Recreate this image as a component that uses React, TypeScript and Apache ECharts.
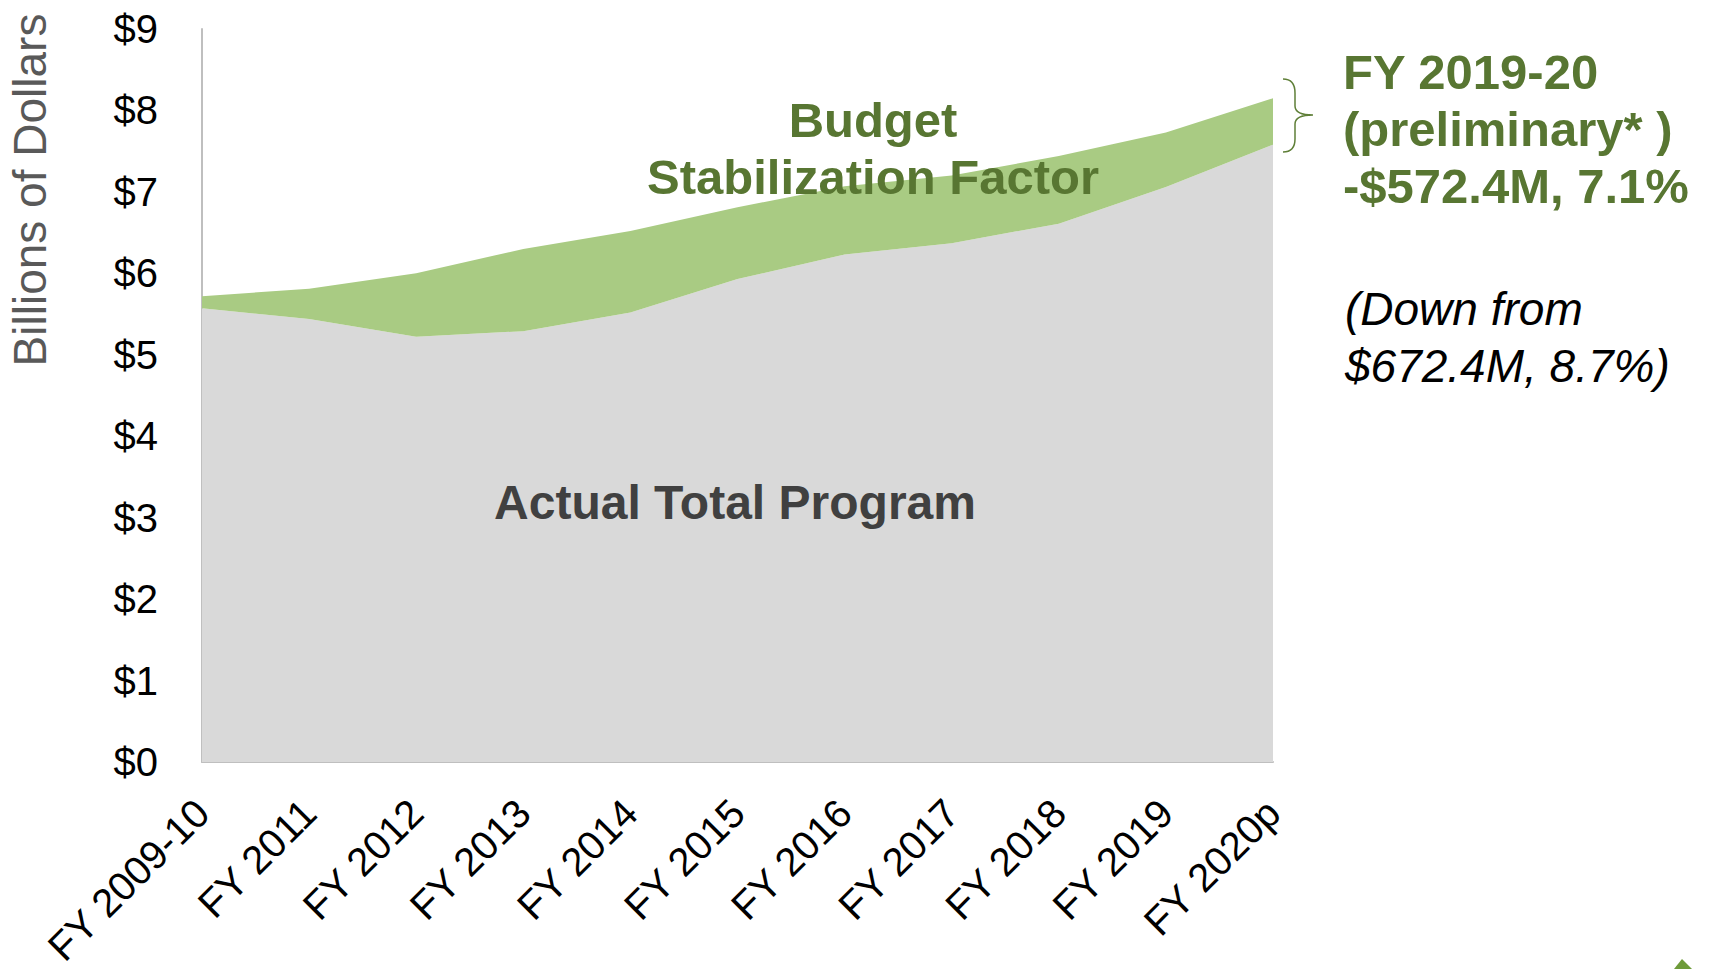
import React, { useEffect, useRef } from "react";
import * as echarts from "echarts";

const categories = [
  "FY 2009-10", "FY 2011", "FY 2012", "FY 2013", "FY 2014", "FY 2015",
  "FY 2016", "FY 2017", "FY 2018", "FY 2019", "FY 2020p",
];
const actualTotalProgram = [5.57, 5.44, 5.22, 5.29, 5.52, 5.93, 6.23, 6.37, 6.61, 7.06, 7.58];
const budgetStabilizationFactor = [0.15, 0.37, 0.78, 1.01, 1.0, 0.88, 0.84, 0.83, 0.83, 0.67, 0.57];
const yTicks = [0, 1, 2, 3, 4, 5, 6, 7, 8, 9];

const FONT = "'Liberation Sans', Arial, sans-serif";
const DARK_GREEN = "#587632";
const LIGHT_GREEN = "#A9CB83";
const GRAY = "#D9D9D9";

echarts.graphic.registerShape(
  "brace",
  echarts.graphic.extendPath(
    "M0,0 C8,0 12,4 12,14 L12,27 C12,33 18,36 30,36 C18,36 12,39 12,45 L12,60 C12,69 8,73 0,73",
    {}
  )
);

export default function App() {
  const ref = useRef<HTMLDivElement>(null);
  useEffect(() => {
    if (!ref.current) return;
    const chart = echarts.init(ref.current, undefined, { renderer: "svg" });
    chart.setOption({
      animation: false,
      backgroundColor: "#ffffff",
      grid: {
        left: 202,
        right: 438,
        top: 29,
        bottom: 207,
        containLabel: false,
        outerBoundsMode: "none",
      },
      xAxis: {
        type: "category",
        data: categories,
        boundaryGap: false,
        axisLine: { show: true, lineStyle: { color: "#BFBFBF", width: 2 } },
        axisTick: { show: false },
        axisLabel: {
          rotate: 45,
          interval: 0,
          margin: 44,
          fontSize: 40,
          color: "#000000",
          fontFamily: FONT,
        },
        splitLine: { show: false },
      },
      yAxis: {
        type: "value",
        min: yTicks[0],
        max: yTicks[yTicks.length - 1],
        interval: 1,
        axisLine: { show: true, lineStyle: { color: "#BFBFBF", width: 2 } },
        axisTick: { show: false },
        splitLine: { show: false },
        axisLabel: {
          formatter: (v: number) => "$" + v,
          fontSize: 40,
          margin: 44,
          color: "#000000",
          fontFamily: FONT,
        },
      },
      series: [
        {
          name: "Actual Total Program",
          type: "line",
          stack: "total",
          data: actualTotalProgram,
          symbol: "none",
          lineStyle: { width: 0 },
          areaStyle: { color: GRAY, opacity: 1 },
          z: 1,
        },
        {
          name: "Budget Stabilization Factor",
          type: "line",
          stack: "total",
          data: budgetStabilizationFactor,
          symbol: "none",
          lineStyle: { width: 0 },
          areaStyle: { color: LIGHT_GREEN, opacity: 1 },
          z: 1,
        },
      ],
      graphic: [
        {
          type: "text",
          x: 30,
          y: 190,
          rotation: Math.PI / 2,
          style: {
            text: "Billions of Dollars",
            fill: "#595959",
            font: `46px ${FONT}`,
            align: "center",
            verticalAlign: "middle",
          },
        },
        {
          type: "text",
          x: 873,
          y: 120,
          z: 10,
          style: {
            text: "Budget",
            fill: DARK_GREEN,
            font: `bold 49px ${FONT}`,
            align: "center",
            verticalAlign: "middle",
          },
        },
        {
          type: "text",
          x: 873,
          y: 177,
          z: 10,
          style: {
            text: "Stabilization Factor",
            fill: DARK_GREEN,
            font: `bold 49px ${FONT}`,
            align: "center",
            verticalAlign: "middle",
          },
        },
        {
          type: "text",
          x: 735,
          y: 502,
          z: 10,
          style: {
            text: "Actual Total Program",
            fill: "#404040",
            font: `bold 48px ${FONT}`,
            align: "center",
            verticalAlign: "middle",
          },
        },
        {
          type: "brace",
          x: 1283,
          y: 79,
          style: { fill: "none", stroke: "#5F7F38", lineWidth: 1.5 },
        },
        {
          type: "text",
          x: 1343,
          y: 72,
          style: {
            text: "FY 2019-20",
            fill: DARK_GREEN,
            font: `bold 49px ${FONT}`,
            align: "left",
            verticalAlign: "middle",
          },
        },
        {
          type: "text",
          x: 1343,
          y: 129,
          style: {
            text: "(preliminary* )",
            fill: DARK_GREEN,
            font: `bold 49px ${FONT}`,
            align: "left",
            verticalAlign: "middle",
          },
        },
        {
          type: "text",
          x: 1343,
          y: 186,
          style: {
            text: "-$572.4M, 7.1%",
            fill: DARK_GREEN,
            font: `bold 49px ${FONT}`,
            align: "left",
            verticalAlign: "middle",
          },
        },
        {
          type: "text",
          x: 1345,
          y: 309,
          style: {
            text: "(Down from",
            fill: "#000000",
            font: `italic 46px ${FONT}`,
            align: "left",
            verticalAlign: "middle",
          },
        },
        {
          type: "text",
          x: 1345,
          y: 366,
          style: {
            text: "$672.4M, 8.7%)",
            fill: "#000000",
            font: `italic 46px ${FONT}`,
            align: "left",
            verticalAlign: "middle",
          },
        },
        {
          type: "polygon",
          shape: { points: [[1674, 969], [1682, 959], [1692, 969]] },
          style: { fill: "#6E9B3A" },
        },
      ],
    });
    return () => chart.dispose();
  }, []);
  return (
    <div
      ref={ref}
      style={{ position: "absolute", left: 0, top: 0, width: 1711, height: 969 }}
    />
  );
}
